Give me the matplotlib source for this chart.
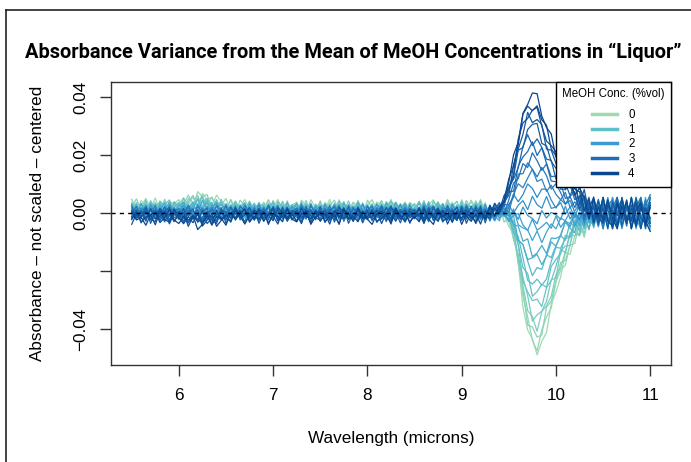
import numpy as np
import matplotlib
matplotlib.use("Agg")
import matplotlib.pyplot as plt
from matplotlib.colors import LinearSegmentedColormap
from matplotlib.lines import Line2D

plt.rcParams['font.family'] = ['Liberation Sans', 'DejaVu Sans']

# wavelength grid (microns), 5.50 .. 11.00 every 0.05
wavelength = np.round(np.arange(111) * 0.05 + 5.5, 2)

# MeOH concentration of each spectrum (%vol), drawn light -> dark
conc = [0, 0.16, 0.32, 0.48, 0.64, 0.8, 0.96, 1.12, 1.28, 1.44, 1.6, 1.76, 1.92,
        2.08, 2.24, 2.4, 2.56, 2.72, 2.88, 3.04, 3.2, 3.36, 3.52, 3.68, 3.84, 4.0]

# height of the 9.8 micron band for every spectrum
band_amp = [-0.048, -0.0448, -0.0428, -0.039, -0.036, -0.0324, -0.028, -0.0255,
            -0.0197, -0.017, -0.0138, -0.008, -0.005, -0.001, 0.004, 0.0085,
            0.0124, 0.016, 0.019, 0.0228, 0.026, 0.0297, 0.033, 0.0355, 0.038, 0.0405]

# how far each spectrum sits above/below zero away from the band
baseline_tilt = [1.0, 0.94, 0.87, 0.81, 0.74, 0.68, 0.62, 0.55, 0.49, 0.42, 0.36, 0.30, 0.23,
                 0.17, 0.10, 0.04, -0.02, -0.09, -0.15, -0.22, -0.28, -0.34, -0.41, -0.47,
                 -0.54, -0.6]

# band profiles from 9.30 to 10.50 (normalised)
peak_shape = [0.0, 0.02, 0.05, 0.12, 0.24, 0.45, 0.67, 0.85, 0.97, 1.0, 0.95, 0.87, 0.75,
              0.63, 0.52, 0.44, 0.36, 0.30, 0.24, 0.17, 0.11, 0.06, 0.03, 0.01, 0.0]
dip_shape = [0.0, 0.0, 0.0, 0.01, 0.04, 0.16, 0.39, 0.64, 0.84, 0.96, 1.0, 0.94, 0.82,
             0.69, 0.57, 0.44, 0.34, 0.26, 0.18, 0.13, 0.09, 0.06, 0.03, 0.01, 0.0]
band_start = 76  # index of 9.30

# baseline offset (x 1e-3) along the spectrum
baseline_bias = ([2.5] * 10
                 + [3, 3.5, 4, 4.5, 5, 5, 4.5, 4, 3.5, 3, 2.5, 2.5, 2]
                 + [2.0] * 53
                 + [0.0] * 35)

# wiggle of the spectra (units of 0.0009)
wiggle = [
    [1, -2, 2, 0, -1, 3, -2, 1, 2, -3, 0, 2, -1, 1, -3, 2, 0, -2, 3, 1,
     -1, 2, -2, 0, 3, -1, 1, -3, 2, -1, 0, 3, -2, 1, -1, 2, -3, 0, 1, -2,
     2, -1, 3, -2, 0, 1, -1, 2, -3, 1, 0, -2, 2, 1, -1, 3, -2, 0, 2, -1,
     1, -3, 2, -1, 0, 2, -2, 3, -1, 1, -2, 0, 2, -1, 3, -2, 1, -1, 2, 0,
     -3, 1, 2, -2, 0, 3, -1, 1, -2, 2, 0, -1, 3, -2, 1, -1, 4, -3, 5, -2,
     3, -5, 2, 6, -3, 4, -6, 5, -2, 3, 7],
    [-2, 1, 0, 3, -1, -2, 2, 0, -3, 1, 2, -1, 0, -2, 3, 1, -2, 2, -1, 0,
     3, -2, 1, -1, -3, 2, 0, 1, -2, 3, -1, 0, 2, -3, 1, 2, -1, -2, 3, 0,
     -2, 2, 0, -1, 3, -3, 1, 0, 2, -2, 1, 3, -1, -2, 0, 2, -3, 1, -1, 2,
     0, 2, -3, 1, 3, -2, 0, -1, 2, -2, 3, -1, 0, 2, -2, 1, -3, 2, 0, 1,
     -1, -2, 3, 0, 2, -1, -3, 2, 1, -2, 2, 0, -3, 1, 4, -2, -1, 5, -4, 2,
     -6, 3, 5, -4, 2, -5, 6, -1, -4, 5, -3],
    [0, 3, -1, 2, -2, 1, 0, -3, 2, 1, -2, 0, 3, -1, 2, -3, 1, 2, -1, -2,
     1, 0, -2, 3, 1, -1, 2, -2, 0, 3, -2, 1, -1, 2, 0, -3, 3, 1, -2, 0,
     2, -2, 1, 3, -1, 0, -2, 2, 1, -3, 3, 0, -1, 2, -3, 1, 2, -2, 0, 1,
     -1, 2, 0, -3, 2, 1, -1, 3, -2, 0, 1, -2, 3, 0, -1, 2, -2, 1, 3, -3,
     0, 2, -1, 1, -3, 2, 0, -2, 3, -1, 1, 2, -2, 0, -3, 3, -5, 2, 4, -3,
     6, -2, -4, 5, -1, 3, -5, 2, 6, -4, 2],
    [3, -1, 1, -2, 2, 0, -1, 3, -2, 0, 1, -3, 2, 0, -1, 2, 3, -2, 1, -1,
     -2, 3, 0, -1, 2, -3, 1, 0, 2, -2, 3, -1, 0, 2, -2, 1, -1, 3, -3, 1,
     0, -1, 2, -3, 1, 2, 0, -2, 3, -1, -2, 1, 0, 3, -1, -2, 2, 0, -3, 2,
     1, -1, 3, -2, 0, 1, -3, 2, 1, -1, -2, 3, 0, -1, 2, -2, 0, 3, -1, 1,
     2, -3, 1, 0, -1, 2, -2, 3, 0, -2, 1, -2, 0, 3, -1, 2, -4, 3, -2, 5,
     -3, 4, -6, 2, 5, -3, 1, -5, 4, -2, -5],
    [-1, 2, -3, 1, 0, 2, -2, 1, 3, -1, 0, -2, 1, 3, -2, 0, 2, -1, -3, 2,
     1, -1, 3, -2, 0, 1, -2, 2, 1, -3, 0, 2, -1, 3, -2, 0, 1, -1, 2, -2,
     3, -3, 0, 1, 2, -1, 3, -2, 0, 1, -1, 2, -3, 0, 1, 3, -1, 2, -2, 0,
     2, -1, 1, -2, 3, 0, -1, 2, -3, 1, 0, 2, -2, 3, -1, 0, 1, -2, 2, -1,
     3, 0, -2, 1, 2, -3, 1, 0, -1, 2, -2, 3, 1, -2, 4, -1, 3, -4, 2, -5,
     4, 1, -3, 6, -5, 2, 3, -4, 5, -6, 4],
    [2, 0, -1, 3, -3, 1, 2, -2, 0, 1, -1, 3, -2, 0, 1, -1, 2, 0, -2, 3,
     -3, 1, 2, -1, 0, 3, -2, 1, -1, 0, 2, -2, 3, -1, 1, 0, -3, 2, 1, -1,
     -2, 0, 1, -2, 3, 1, -1, 0, 2, -3, 1, -1, 2, 0, -2, 3, 1, -3, 2, -1,
     0, 3, -2, 1, -1, 2, 0, -2, 1, 3, -2, 1, -1, 0, 3, -3, 2, 1, -2, 0,
     1, -1, 2, -3, 0, 1, 3, -2, 1, -1, 0, 2, -3, 2, -1, -4, 3, 1, -3, 4,
     -2, 5, -6, 3, -1, 4, -3, 6, -2, -4, 6],
    [0, -1, 2, -2, 3, -1, 0, 2, -3, 1, 2, 0, -2, 1, -1, 3, -2, 0, 1, 2,
     -1, -2, 3, 0, 1, -1, 2, -3, 1, 0, -2, 3, 1, -2, 0, 2, -1, 1, -3, 2,
     0, 1, -2, 2, -1, 3, -3, 1, 0, -1, 2, -2, 1, -1, 3, 0, -2, 1, 2, -3,
     1, 0, -1, 3, -2, 1, 2, -1, 0, -2, 3, -3, 1, 2, 0, -1, 2, -2, 1, 0,
     -2, 2, 0, -1, 3, -2, 1, 2, -3, 1, 0, -2, 2, -1, 3, -3, 5, -2, 1, -4,
     2, -6, 4, -1, 5, -3, 2, -5, 3, 1, -4],
    [-3, 1, 0, 2, -1, -2, 3, 0, 1, -2, 1, 2, -3, 1, 0, -1, 2, -2, 3, -1,
     0, 1, -1, 2, -3, 0, 2, 1, -2, 1, 3, -2, 0, -1, 2, 1, -3, 2, 0, -1,
     1, 2, -1, 0, -3, 2, 1, -2, 3, 0, -1, 0, 2, -3, 1, -1, 3, 0, -2, 2,
     -1, 1, -3, 2, 0, 3, -2, -1, 2, 0, -1, 2, 1, -3, 1, 0, -2, 3, -1, 2,
     0, -3, 2, 1, -2, 0, 3, -1, -2, 1, 3, -1, 0, -2, 2, 4, -3, -1, 5, -2,
     -4, 3, 1, -5, 6, -2, -3, 4, -6, 2, -2],
]

legend_conc = [0, 1, 2, 3, 4]
legend_colors = ['#9fdbb2', '#5fc1c8', '#3a9bd2', '#1f6db4', '#0a468e']

cmap = LinearSegmentedColormap.from_list('meoh', legend_colors)

fig = plt.figure(figsize=(6.91, 4.62), dpi=100)
ax = fig.add_axes([0.1606, 0.2100, 0.8104, 0.6125])

peak = np.array(peak_shape)
dip = np.array(dip_shape)
bias = np.array(baseline_bias) * 1e-3
for i, c in enumerate(conc):
    band = np.zeros(len(wavelength))
    shape = peak if band_amp[i] > 0 else dip
    band[band_start:band_start + len(shape)] = band_amp[i] * shape
    row = np.array(wiggle[i % len(wiggle)]) * 0.0009
    if (i // len(wiggle)) % 2 == 1:
        row = -row
    y = band + baseline_tilt[i] * bias + row
    ax.plot(wavelength, y, color=cmap(c / 4.0), lw=0.9)

ax.axhline(0, color='black', lw=1, linestyle=(0, (3, 3)))

ax.set_xlim(5.28, 11.22)
ax.set_ylim(-0.0524, 0.0452)
ax.set_xticks([6, 7, 8, 9, 10, 11])
ax.set_yticks([-0.04, -0.02, 0.0, 0.02, 0.04])
ax.set_yticklabels(['\u22120.04', '', '0.00', '0.02', '0.04'])
for lab in ax.get_yticklabels():
    lab.set_rotation(90)
    lab.set_va('center')
ax.tick_params(axis='both', labelsize=12.3, length=7.9, width=1.0,
               color='#333333', direction='out')
ax.tick_params(axis='x', pad=9)
ax.tick_params(axis='y', pad=8.5)
for sp in ax.spines.values():
    sp.set_color('#333333')
    sp.set_linewidth(1.0)

fig.text(391 / 691, 1 - 438 / 462, 'Wavelength (microns)', ha='center', va='center', fontsize=12.3)
fig.text(38 / 691, 1 - 223 / 462, 'Absorbance \u2013 not scaled \u2013 centered',
         ha='center', va='center', rotation=90, fontsize=12.3)
fig.text(353 / 691, 1 - 52 / 462,
         'Absorbance Variance from the Mean of MeOH Concentrations in \u201cLiquor\u201d',
         ha='center', va='center', fontsize=14.4, fontweight='bold', family='Roboto')

handles = [Line2D([0], [0], color=col, lw=2.5) for col in legend_colors]
leg = ax.legend(handles, [str(v) for v in legend_conc], title='MeOH Conc. (%vol)',
                loc='upper right', bbox_to_anchor=(1, 1), borderaxespad=0,
                frameon=True, fancybox=False, edgecolor='black', framealpha=1,
                fontsize=8.3, title_fontsize=8.3, handlelength=2.17, handletextpad=0.95,
                labelspacing=0.25, borderpad=0.55)
leg.get_frame().set_linewidth(1.0)
leg._legend_box.sep = 6

# outer frame (left and top edges)
fig.add_artist(Line2D([6 / 691, 6 / 691], [0, 1 - 10 / 462], color='#222222', lw=1.2))
fig.add_artist(Line2D([6 / 691, 1], [1 - 10 / 462, 1 - 10 / 462], color='#222222', lw=1.2))

fig.savefig('out.png', dpi=100)
